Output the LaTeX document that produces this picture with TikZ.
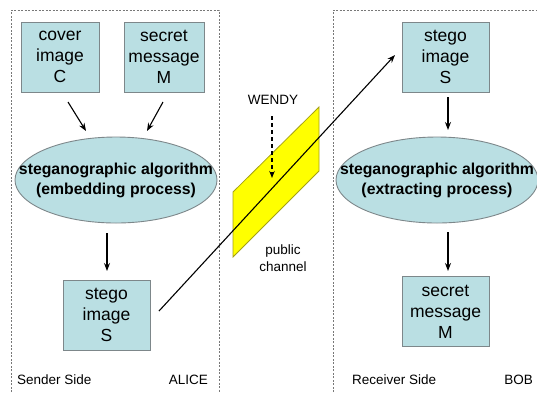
\documentclass[tikz,border=0pt]{standalone}
\usepackage{fontspec}
\setmainfont{Liberation Sans}
\usetikzlibrary{arrows.meta,shapes.geometric}

\definecolor{boxfill}{RGB}{186,223,227}
\definecolor{boxline}{RGB}{125,135,138}
\definecolor{chanfill}{RGB}{255,255,0}
\definecolor{chanline}{RGB}{165,160,20}
\definecolor{sideline}{RGB}{120,120,120}

\tikzset{
  datbox/.style={draw=boxline, fill=boxfill, line width=0.9pt,
    minimum width=87pt, minimum height=70pt, inner sep=0pt,
    align=center, font=\fontsize{17.5}{21}\selectfont},
  algo/.style={ellipse, draw=boxline, fill=boxfill, line width=0.9pt,
    minimum width=202pt, minimum height=86pt, inner sep=0pt},
  algotext/.style={inner sep=0pt, align=center,
    font=\bfseries\fontsize{15.8}{20}\selectfont},
  lbl/.style={font=\fontsize{13.5}{17}\selectfont, inner sep=0pt, align=center},
  flow/.style={-{Stealth[length=8pt,width=6pt]}, line width=1.1pt},
  side/.style={draw=sideline, line width=0.7pt, dash pattern=on 2pt off 1.5pt}
}

\begin{document}
\begin{tikzpicture}[x=1pt, y=-1pt]
\useasboundingbox[fill=white] (0,0) rectangle (537,392);

% sender and receiver areas
\draw[side] (11,392) -- (11,10) -- (219,10) -- (219,392);
\draw[side] (333,392) -- (333,10) -- (537,10);

% public channel
\filldraw[fill=chanfill, draw=chanline, line width=0.8pt]
  (233,192) -- (319,107) -- (319,171) -- (233,257) -- cycle;

% sender side
\node[datbox, minimum width=78pt] (cover) at (60,57) {cover\\image\\C};
\node[datbox, minimum width=80pt] (secret) at (164,57) {secret\\message\\M};
\node[algo] (embed) at (116,180) {};
\node[algotext] (embedtxt) at (embed.center) {steganographic algorithm\\(embedding process)};
\node[datbox] (stegoL) at (106.5,315) {stego\\image\\S};

% receiver side
\node[datbox] (stegoR) at (445.5,57) {stego\\image\\S};
\node[algo] (extract) at (437,180) {};
\node[algotext] (extracttxt) at (extract.center) {steganographic algorithm\\(extracting process)};
\node[datbox] (secretR) at (445.5,311.5) {secret\\message\\M};

% labels
\node[lbl, anchor=west] (sender) at (17,380) {Sender Side};
\node[lbl, anchor=east] (alice) at (208,380) {ALICE};
\node[lbl, anchor=west] (receiver) at (352,380) {Receiver Side};
\node[lbl, anchor=east] (bob) at (533,380) {BOB};
\node[lbl] (wendy) at (273,100) {WENDY};
\node[lbl] (public) at (283,258) {public\\channel};

% flow between the steps
\coordinate (c1) at (68,102);  \coordinate (c2) at (86,131);
\coordinate (m1) at (163,102); \coordinate (m2) at (147,131);
\coordinate (e1) at (107,233); \coordinate (e2) at (107,271);
\coordinate (r1) at (448,97);  \coordinate (r2) at (448,130);
\coordinate (x1) at (448,232); \coordinate (x2) at (448,271);
\draw[flow] (c1) -- (c2);
\draw[flow] (m1) -- (m2);
\draw[flow] (e1) -- (e2);
\draw[flow] (r1) -- (r2);
\draw[flow] (x1) -- (x2);

% transmission over the channel
\coordinate (tx) at (159,311);
\coordinate (rx) at (395,55);
\draw[flow] (tx) -- (rx);

% eavesdropper
\coordinate (w1) at (272,116);
\coordinate (w2) at (272,178);
\draw[-{Stealth[length=7pt,width=5.5pt]}, line width=1.1pt, dash pattern=on 4pt off 3pt]
  (w1) -- (w2);
\end{tikzpicture}
\end{document}
